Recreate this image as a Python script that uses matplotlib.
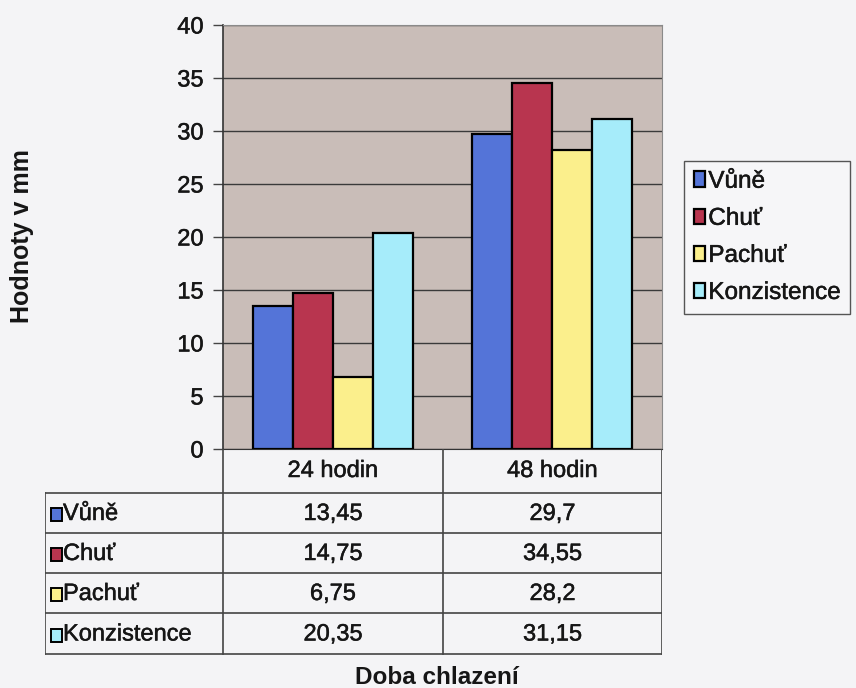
import matplotlib.pyplot as plt
import matplotlib.patheffects as pe
from matplotlib.patches import Rectangle
import numpy as np

# data
categories = ['24 hodin', '48 hodin']
series = ['Vůně', 'Chuť', 'Pachuť', 'Konzistence']
vune = [13.45, 29.7]
chut = [14.75, 34.55]
pachut = [6.75, 28.2]
konzistence = [20.35, 31.15]
values = [vune, chut, pachut, konzistence]
colors = ['#5474d8', '#b8354f', '#fbef8c', '#a6ecfa']
yticks = [0, 5, 10, 15, 20, 25, 30, 35, 40]

plt.rcParams['font.family'] = ['Liberation Sans', 'DejaVu Sans']
W, H = 856, 688
FS = 17
TXT = '#161616'
# scanned text looks a bit heavier than plain regular
HEAVY = [pe.withStroke(linewidth=0.35, foreground=TXT)]
fig = plt.figure(figsize=(W / 100, H / 100), dpi=100, facecolor='#f4f4f6')

def px_axes(x0, y0, x1, y1):
    # pixel box (top-left origin) -> axes
    return fig.add_axes([x0 / W, 1 - y1 / H, (x1 - x0) / W, (y1 - y0) / H])

# main plot
ax = px_axes(223, 25, 662, 449)
ax.set_facecolor('#c9bdb8')
x = np.arange(len(categories))
bw = 0.182
for i, (name, vals) in enumerate(zip(series, values)):
    ax.bar(x + (i - 1.5) * bw, vals, bw, color=colors[i], edgecolor='black',
           linewidth=1.6, label=name, zorder=3)
ax.set_xlim(-0.5, 1.5)
ax.set_ylim(0, 40)
ax.set_yticks(yticks)
ax.set_yticklabels([str(t) for t in yticks], fontsize=FS, color=TXT)
for t in ax.get_yticklabels():
    t.set_path_effects(HEAVY)
ax.yaxis.grid(True, color='#3a3a3a', linewidth=1.0, zorder=1)
ax.set_xticks([])
ax.tick_params(axis='y', length=7, width=1, color='#444', pad=7)
for s in ['top', 'right']:
    ax.spines[s].set_color('#8a8a8a')
ax.spines['left'].set_color('#333')
ax.spines['bottom'].set_color('#333')
ax.spines['left'].set_linewidth(1.2)
ax.set_axisbelow(True)

fig.text(22 / W, 1 - 236 / H, 'Hodnoty v mm', rotation=90, fontsize=18,
         fontweight='bold', ha='center', va='center', color=TXT)

# legend
leg = ax.legend(loc='upper left', bbox_to_anchor=(684 / W, 1 - 161 / H),
                bbox_transform=fig.transFigure, fontsize=FS + 0.5, frameon=True,
                fancybox=False, edgecolor='#555', facecolor='#f6f6f8',
                handlelength=0.45, handleheight=0.6, handletextpad=0.15,
                borderpad=0.4, labelspacing=0.62, borderaxespad=0)
leg.get_frame().set_linewidth(1.0)
leg.get_frame().set_alpha(1)
for t in leg.get_texts():
    t.set_color(TXT)
    t.set_path_effects(HEAVY)

# data table under the plot
tx0, tx1 = 45, 662
tab = px_axes(tx0, 449, tx1, 656)
tab.set_xlim(tx0, tx1)
tab.set_ylim(656, 449)
tab.axis('off')
col_edges = [45, 223, 443, 662]
row_edges = [449, 493, 533, 573, 613, 654]
lc = '#444'
for yy in row_edges[1:]:
    tab.plot([col_edges[0], col_edges[-1]], [yy, yy], color=lc, lw=1.2)
tab.plot([col_edges[0], col_edges[0]], [row_edges[1], row_edges[-1]], color=lc, lw=1.2)
for xx in col_edges[1:]:
    tab.plot([xx, xx], [row_edges[0], row_edges[-1]], color=lc, lw=1.2)
for j, cat in enumerate(categories):
    cx = (col_edges[j + 1] + col_edges[j + 2]) / 2
    tab.text(cx, (row_edges[0] + row_edges[1]) / 2, cat, ha='center',
             va='center', fontsize=FS, color=TXT, path_effects=HEAVY)
for i, name in enumerate(series):
    cy = (row_edges[i + 1] + row_edges[i + 2]) / 2
    tab.add_patch(Rectangle((51, cy - 5), 11, 13, facecolor=colors[i],
                            edgecolor='black', lw=1.4))
    tab.text(63, cy + 1, name, ha='left', va='center', fontsize=FS, color=TXT,
             path_effects=HEAVY)
    for j in range(len(categories)):
        cx = (col_edges[j + 1] + col_edges[j + 2]) / 2
        txt = f'{values[i][j]:g}'.replace('.', ',')
        tab.text(cx, cy + 1, txt, ha='center', va='center', fontsize=FS,
                 color=TXT, path_effects=HEAVY)

fig.text(437 / W, 1 - 677 / H, 'Doba chlazení', fontsize=17.5, fontweight='bold',
         ha='center', va='center', color=TXT)

fig.savefig('out.png', dpi=100, facecolor=fig.get_facecolor())
